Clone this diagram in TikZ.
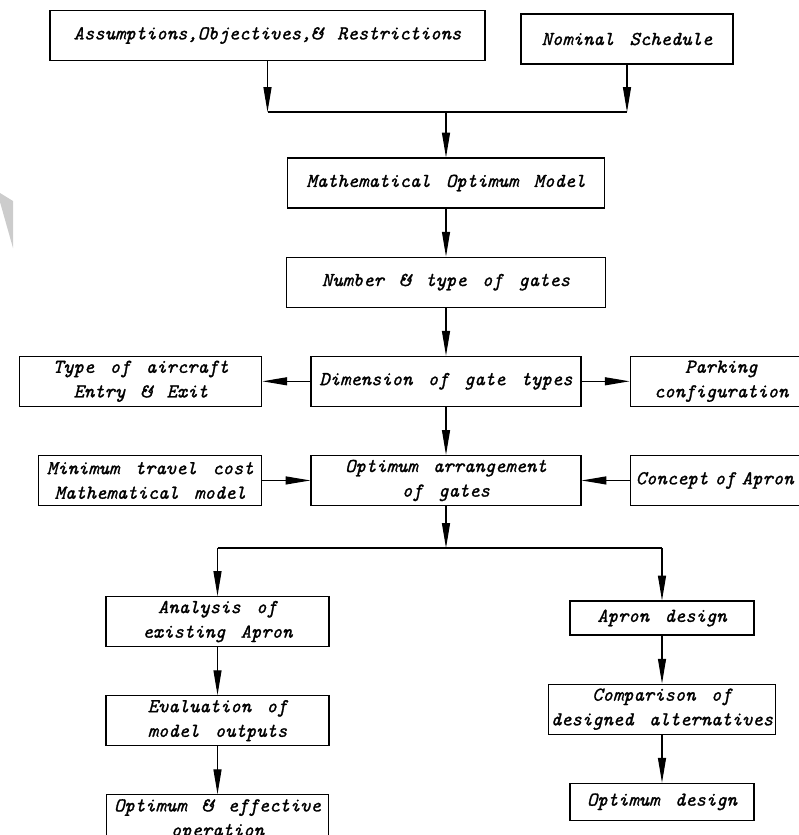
\documentclass[tikz,border=0pt]{standalone}
\usepackage{fontspec}
\usepackage{tikz}
\usetikzlibrary{positioning,arrows.meta}
\newfontfamily\cadfont{lmmono10-italic.otf}[FakeBold=1.2,WordSpace=1.5]

\begin{document}
\begin{tikzpicture}[
    x=0.025cm, y=-0.025cm,
    node distance=1.2cm and 1.2cm,
    block/.style={rectangle,draw,line width=0.8pt,minimum height=1.25cm,inner sep=2pt,
                  align=center,font=\cadfont\fontsize{14}{17.5}\selectfont},
    arrow/.style={-{Triangle[length=0.62cm,width=0.2cm]},line width=0.8pt},
    link/.style={line width=0.8pt}
]
\useasboundingbox (0,0) rectangle (799,835);
\clip (0,0) rectangle (799,835);

% scan shadow at the left edge
\fill[gray!40] (0,193) -- (13,201) -- (13,248) -- (0,202) -- cycle;

\node[block,minimum width=10.875cm] (assume) at (267.5,35.5) {Assumptions,Objectives,\& Restrictions};
\node[block,minimum width=5.3cm]    (nominal) at (627,39) {Nominal Schedule};
\node[block,minimum width=7.925cm]  (model) at (446,183) {Mathematical Optimum Model};
\node[block,minimum width=7.975cm,below=of model]  (gates) {Number \& type of gates};
\node[block,minimum width=6.75cm,below=of gates]   (dim) {Dimension of gate types};
\node[block,minimum width=6.05cm,left=of dim]      (aircraft) {Type of aircraft\\Entry \& Exit};
\node[block,minimum width=4.55cm,right=of dim]     (parking) {Parking\\configuration};
\node[block,minimum width=6.75cm,below=of dim]     (arrange) {Optimum arrangement\\of gates};
\node[block,minimum width=5.575cm,left=of arrange] (travel) {Minimum travel cost\\Mathematical model};
\node[block,text width=4.6cm,align=left,inner xsep=4pt,right=of arrange] (concept) {Concept of Apron};

\node[block,minimum width=5.575cm] (analysis) at (217.5,621.5) {Analysis of\\existing Apron};
\node[block,minimum width=5.575cm,below=of analysis]   (evaluation) {Evaluation of\\model outputs};
\node[block,minimum width=5.55cm,below=of evaluation]  (effective) {Optimum \& effective\\operation};

\node[block,minimum width=4.6cm,minimum height=0.85cm] (design) at (662,618) {Apron design};
\node[block,minimum width=5.525cm,below=of design]     (compare) {Comparison of\\designed alternatives};
\node[block,minimum width=4.6cm,minimum height=0.925cm,below=of compare] (optdesign) {Optimum design};

\coordinate (topjoin) at (model.north |- 0,112);
\coordinate (botjoin) at (arrange.south |- 0,548);

\draw[arrow] (assume.south) -- (assume.south |- topjoin);
\draw[arrow] (nominal.south) -- (nominal.south |- topjoin);
\draw[link] (assume.south |- topjoin) -- (nominal.south |- topjoin);
\draw[arrow] (topjoin) -- (model);
\draw[arrow] (model) -- (gates);
\draw[arrow] (gates) -- (dim);
\draw[arrow] (dim) -- (aircraft);
\draw[arrow] (dim) -- (parking);
\draw[arrow] (dim) -- (arrange);
\draw[arrow] (travel) -- (arrange);
\draw[arrow] (concept) -- (arrange);

\draw[arrow] (arrange) -- (botjoin);
\draw[link] (analysis.north |- botjoin) -- (design.north |- botjoin);
\draw[arrow] (analysis.north |- botjoin) -- (analysis);
\draw[arrow] (design.north |- botjoin) -- (design);
\draw[arrow] (analysis) -- (evaluation);
\draw[arrow] (evaluation) -- (effective);
\draw[arrow] (design) -- (compare);
\draw[arrow] (compare) -- (optdesign);
\end{tikzpicture}
\end{document}
